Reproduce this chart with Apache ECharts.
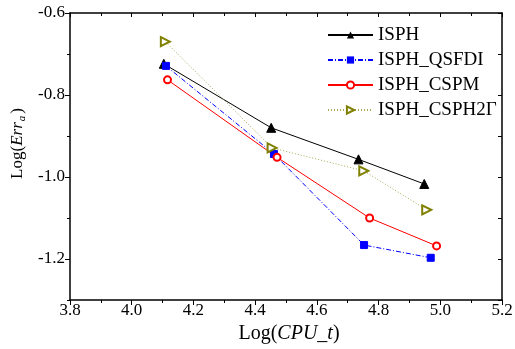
<!DOCTYPE html>
<html>
<head>
<meta charset="utf-8">
<script src="https://cdn.jsdelivr.net/npm/echarts@6/dist/echarts.min.js"></script>
<style>html,body{margin:0;padding:0;background:#fff}#c{width:515px;height:349px}</style>
</head>
<body>
<div id="c"></div>
<script>
var seriesNames = ['ISPH', 'ISPH_QSFDI', 'ISPH_CSPM', 'ISPH_CSPH2Γ'];
var isphX = [4.104, 4.452, 4.735, 4.948];
var isphY = [-0.724, -0.880, -0.957, -1.017];
var qsfdiX = [4.111, 4.461, 4.753, 4.969];
var qsfdiY = [-0.729, -0.944, -1.166, -1.197];
var cspmX = [4.116, 4.471, 4.771, 4.988];
var cspmY = [-0.763, -0.952, -1.100, -1.168];
var csph2X = [4.109, 4.455, 4.752, 4.956];
var csph2Y = [-0.670, -0.929, -0.985, -1.080];
var yMajorTicks = [-1.2, -1.0, -0.8, -0.6];
var yMinorTicks = [-1.3, -1.1, -0.9, -0.7];

function pairs(xs, ys) { return xs.map(function (x, i) { return [x, ys[i]]; }); }

var FONT = '"Liberation Serif", "Times New Roman", serif';
var chart = echarts.init(document.getElementById('c'), null, {renderer: 'canvas'});
var axisLineStyle = {color: '#000', width: 1.5};
chart.setOption({
  animation: false,
  backgroundColor: '#fff',
  textStyle: {fontFamily: FONT},
  grid: {left: 70, top: 13, right: 13, bottom: 49, containLabel: false, outerBoundsMode: 'none'},
  legend: {
    orient: 'vertical', left: 327, top: 25, padding: 0,
    itemWidth: 45, itemHeight: 9, itemGap: 5,
    textStyle: {fontFamily: FONT, fontSize: 19, color: '#000', lineHeight: 20},
    data: seriesNames
  },
  xAxis: [{
    type: 'value', position: 'bottom', min: 3.8, max: 5.2, interval: 0.2,
    axisLine: {show: true, onZero: false, lineStyle: axisLineStyle},
    axisTick: {show: true, inside: false, length: 5, lineStyle: {color: '#000', width: 1}},
    minorTick: {show: true, splitNumber: 2, length: 3, lineStyle: {color: '#000', width: 1}},
    splitLine: {show: false}, minorSplitLine: {show: false},
    axisLabel: {fontFamily: FONT, fontSize: 17, color: '#000', margin: 2, formatter: function (v) { return v.toFixed(1); }},
    name: 'Log({i|CPU_t})', nameLocation: 'middle', nameGap: 24,
    nameTextStyle: {fontFamily: FONT, fontSize: 20, color: '#000', verticalAlign: 'top', padding: [0, 0, 0, 6],
      rich: {i: {fontFamily: FONT, fontSize: 20, fontStyle: 'italic', color: '#000'}}}
  }, {
    type: 'value', position: 'top', min: 3.8, max: 5.2, interval: 0.2,
    axisLine: {show: true, onZero: false, lineStyle: axisLineStyle},
    axisTick: {show: true, inside: true, length: 4, lineStyle: {color: '#000', width: 1}},
    minorTick: {show: true, splitNumber: 2, length: 3, lineStyle: {color: '#000', width: 1}},
    splitLine: {show: false}, minorSplitLine: {show: false},
    axisLabel: {show: false}
  }],
  yAxis: [{
    type: 'value', position: 'left', min: -1.3, max: -0.6, interval: 0.1,
    axisLine: {show: true, onZero: false, lineStyle: axisLineStyle},
    axisTick: {show: true, inside: false, length: 5, customValues: yMajorTicks, lineStyle: {color: '#000', width: 1}},
    splitLine: {show: false},
    axisLabel: {fontFamily: FONT, fontSize: 17, color: '#000', margin: 5, customValues: yMajorTicks,
      formatter: function (v) { return v.toFixed(1); }},
    name: 'Log({i|Err}{s|a})', nameLocation: 'middle', nameGap: 37,
    nameTextStyle: {fontFamily: FONT, fontSize: 17, color: '#000', padding: [0, 0, 0, 26],
      rich: {i: {fontFamily: FONT, fontSize: 17, fontStyle: 'italic', color: '#000'},
             s: {fontFamily: FONT, fontSize: 11, fontStyle: 'italic', color: '#000', padding: [9, 2, 0, 1]}}}
  }, {
    type: 'value', position: 'left', min: -1.3, max: -0.6, interval: 0.1,
    axisLine: {show: false},
    axisTick: {show: true, inside: false, length: 3, customValues: yMinorTicks, lineStyle: {color: '#000', width: 1}},
    splitLine: {show: false},
    axisLabel: {show: false}
  }, {
    type: 'value', position: 'right', min: -1.3, max: -0.6, interval: 0.1,
    axisLine: {show: true, onZero: false, lineStyle: axisLineStyle},
    axisTick: {show: true, inside: true, length: 4, lineStyle: {color: '#000', width: 1}},
    splitLine: {show: false},
    axisLabel: {show: false}
  }],
  series: [{
    name: seriesNames[0], type: 'line', data: pairs(isphX, isphY),
    symbol: 'triangle', symbolSize: 9,
    lineStyle: {color: '#000', width: 1, type: 'solid'},
    itemStyle: {color: '#000', borderColor: '#000'}
  }, {
    name: seriesNames[1], type: 'line', data: pairs(qsfdiX, qsfdiY),
    symbol: 'rect', symbolSize: 7,
    lineStyle: {color: '#0000ff', width: 1, type: [5, 2, 1, 2]},
    itemStyle: {color: '#0000ff', borderColor: '#0000ff'}
  }, {
    name: seriesNames[2], type: 'line', data: pairs(cspmX, cspmY),
    symbol: 'emptyCircle', symbolSize: 7,
    lineStyle: {color: '#ff0000', width: 1, type: 'solid'},
    itemStyle: {color: '#ff0000', borderColor: '#ff0000', borderWidth: 1}
  }, {
    name: seriesNames[3], type: 'line', data: pairs(csph2X, csph2Y),
    symbol: 'emptyTriangle', symbolSize: 9, symbolRotate: -90,
    lineStyle: {color: '#a8a850', width: 1, type: [1, 2]},
    itemStyle: {color: '#808000', borderColor: '#808000', borderWidth: 1.2}
  }]
});
</script>
</body>
</html>
